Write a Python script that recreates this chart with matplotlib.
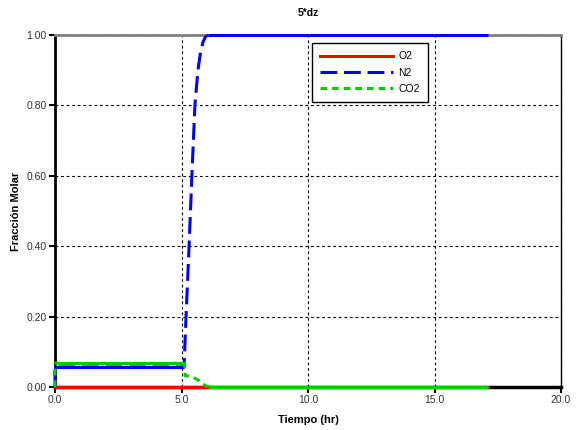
import numpy as np
import matplotlib.pyplot as plt

plt.rcParams['font.family'] = ['Liberation Sans', 'DejaVu Sans']

# time (hr) and molar fractions
t_o2 = [0.0, 17.1]
o2 = [0.0, 0.0]

t_n2 = [0.0, 0.0, 5.10, 5.18, 5.30, 5.41, 5.53, 5.65, 5.75, 5.85, 5.95, 6.05, 17.1]
n2 = [0.0, 0.057, 0.057, 0.20, 0.40, 0.60, 0.80, 0.90, 0.95, 0.98, 0.995, 1.0, 1.0]

t_co2 = [0.0, 0.0, 5.12, 5.15, 5.30, 5.45, 5.65, 5.80, 5.95, 6.10, 17.1]
co2 = [0.0, 0.067, 0.067, 0.032, 0.031, 0.028, 0.020, 0.012, 0.004, 0.0, 0.0]

xticks = [0, 5, 10, 15, 20]
yticks = [0, 0.2, 0.4, 0.6, 0.8, 1.0]


def plot_series(ax, t, y, color, dashes, label):
    t = np.asarray(t)
    y = np.asarray(y)
    flat = y[:-1] == y[1:]
    # flat stretches come out solid in the original, the rest dashed
    for i in range(len(t) - 1):
        kw = dict(color=color, lw=2.2, clip_on=False, zorder=4)
        if flat[i]:
            ax.plot(t[i:i + 2], y[i:i + 2], solid_capstyle='butt', **kw)
    moving = np.full(len(t), np.nan)
    for i in range(len(t) - 1):
        if not flat[i]:
            moving[i] = y[i]
            moving[i + 1] = y[i + 1]
    line, = ax.plot(t, moving, dashes=dashes, dash_capstyle='butt',
                    label=label, color=color, lw=2.2, clip_on=False, zorder=4)
    return line


fig = plt.figure(figsize=(5.82, 4.30), dpi=100)
ax = fig.add_axes([55 / 582, 43 / 430, 506 / 582, 352 / 430])

ax.plot(t_o2, o2, color='#ff0000', lw=2.2, label='O2', clip_on=False, zorder=4)
plot_series(ax, t_n2, n2, '#0000ff', (5.5, 2.2), 'N2')
plot_series(ax, t_co2, co2, '#00cc00', (2.2, 1.6), 'CO2')

ax.set_xlim(0, 20)
ax.set_ylim(0, 1.0)
ax.set_xticks(xticks)
ax.set_xticklabels(['%.1f' % v for v in xticks])
ax.set_yticks(yticks)
ax.set_yticklabels(['%.2f' % v for v in yticks])
ax.tick_params(direction='out', length=4, width=1.5, labelsize=7.5,
               labelcolor='#333333', pad=2)

ax.grid(True, color='black', linestyle=(0, (2.5, 2.5)), linewidth=0.8)
ax.set_axisbelow(True)

for side in ax.spines:
    ax.spines[side].set_zorder(2)
ax.spines['left'].set_linewidth(2)
ax.spines['bottom'].set_linewidth(2.5)
ax.spines['right'].set_linewidth(1)
ax.spines['top'].set_linewidth(2)
ax.spines['top'].set_color('#808080')

ax.set_title('5*dz', fontsize=7.5, fontweight='bold', pad=14)
ax.set_xlabel('Tiempo (hr)', fontsize=8, fontweight='bold', labelpad=7)
ax.set_ylabel('Fracción Molar', fontsize=8, fontweight='bold', labelpad=4)

leg = ax.legend(loc='upper left', bbox_to_anchor=(0.508, 0.977), borderaxespad=0,
                fontsize=7.5, fancybox=False, framealpha=1, edgecolor='black',
                handlelength=7.0, handletextpad=0.5, labelspacing=0.6,
                borderpad=0.8)
leg.get_frame().set_linewidth(1)
leg.set_zorder(5)

fig.savefig('out.png', dpi=100)
